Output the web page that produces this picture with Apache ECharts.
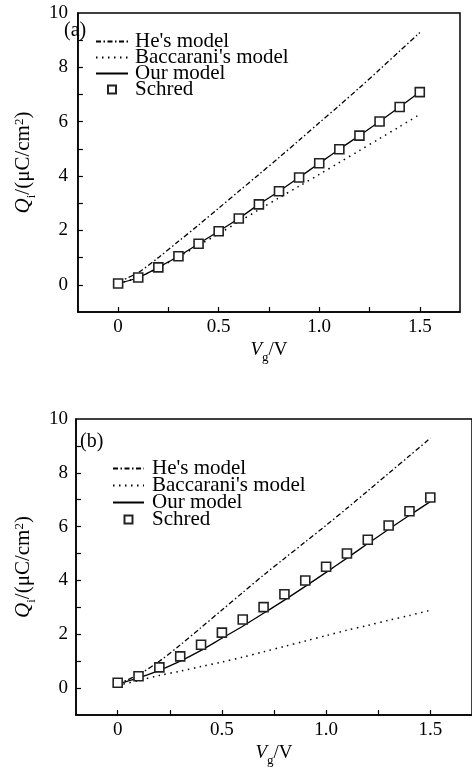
<!DOCTYPE html>
<html>
<head>
<meta charset="utf-8">
<script src="https://cdn.jsdelivr.net/npm/echarts@6/dist/echarts.min.js"></script>
<style>
  html, body { margin: 0; padding: 0; background: #fff; }
  #main { width: 472px; height: 768px; }
</style>
</head>
<body>
<div id="main"></div>
<script>
// gate voltage samples (V)
var vg = [0, 0.1, 0.2, 0.3, 0.4, 0.5, 0.6, 0.7, 0.8, 0.9, 1.0, 1.1, 1.2, 1.3, 1.4, 1.5]

// panel (a)
var heA     = [0.1, 0.45, 1.0, 1.6, 2.2, 2.82, 3.44, 4.06, 4.68, 5.32, 5.96, 6.6, 7.25, 7.92, 8.6, 9.28]
var baccA   = [0.05, 0.27, 0.63, 1.03, 1.45, 1.88, 2.32, 2.76, 3.2, 3.63, 4.06, 4.5, 4.94, 5.38, 5.82, 6.27]
var ourA    = [0.05, 0.27, 0.64, 1.05, 1.51, 1.97, 2.44, 2.96, 3.44, 3.95, 4.47, 4.99, 5.49, 6.01, 6.54, 7.09]
var schredA = [0.05, 0.27, 0.64, 1.05, 1.51, 1.97, 2.44, 2.96, 3.44, 3.95, 4.47, 4.99, 5.49, 6.01, 6.54, 7.09]

// panel (b)
var heB     = [0.15, 0.5, 1.0, 1.6, 2.25, 2.9, 3.55, 4.2, 4.82, 5.43, 6.05, 6.68, 7.33, 7.98, 8.63, 9.29]
var baccB   = [0.1, 0.28, 0.47, 0.63, 0.8, 0.97, 1.15, 1.35, 1.55, 1.75, 1.95, 2.15, 2.33, 2.52, 2.7, 2.89]
var ourB    = [0.15, 0.38, 0.66, 1.0, 1.4, 1.85, 2.3, 2.78, 3.27, 3.78, 4.3, 4.83, 5.37, 5.9, 6.42, 6.93]
var schredB = [0.2, 0.44, 0.77, 1.18, 1.61, 2.06, 2.55, 3.01, 3.49, 4.0, 4.51, 5.0, 5.51, 6.04, 6.57, 7.08]

var names = ["He's model", "Baccarani's model", 'Our model', 'Schred']
var xLabels = [0, 0.5, 1.0, 1.5]
var xTicks = [0, 0.25, 0.5, 0.75, 1.0, 1.25, 1.5]
var yLabels = [0, 2, 4, 6, 8, 10]
var yTicks = [0, 1, 2, 3, 4, 5, 6, 7, 8, 9]

var FONT = 'Liberation Serif'
var NONE = 'rgba(0,0,0,0)'

function pairs(ys) {
  return vg.map(function (v, i) { return [v, ys[i]] })
}

function xAxis(grid, gap) {
  return {
    gridIndex: grid, type: 'value', min: -0.2, max: 1.7,
    axisLine: { onZero: false, lineStyle: { color: '#000', width: 1.5 } },
    axisTick: { inside: true, length: 5, customValues: xTicks, lineStyle: { color: '#000', width: 1.2 } },
    axisLabel: {
      customValues: xLabels, margin: 6, color: '#000', fontSize: 19, fontFamily: FONT,
      formatter: function (v) { return v === 0 ? '0' : v.toFixed(1) }
    },
    splitLine: { show: false },
    name: '{v|V}{s|g}{n|/V}', nameLocation: 'middle', nameGap: gap,
    nameTextStyle: {
      color: '#000', fontFamily: FONT,
      rich: {
        v: { fontSize: 19, fontStyle: 'italic', fontFamily: FONT, lineHeight: 28, verticalAlign: 'middle' },
        n: { fontSize: 19, fontFamily: FONT, lineHeight: 28, verticalAlign: 'middle' },
        s: { fontSize: 13, fontFamily: FONT, lineHeight: 13, verticalAlign: 'bottom' }
      }
    }
  }
}

function yAxis(grid, gap, margin) {
  return {
    gridIndex: grid, type: 'value', min: -1, max: 10,
    axisLine: { onZero: false, lineStyle: { color: '#000', width: 1.5 } },
    axisTick: { inside: true, length: 5, customValues: yTicks, lineStyle: { color: '#000', width: 1.2 } },
    axisLabel: { customValues: yLabels, margin: margin, color: '#000', fontSize: 19, fontFamily: FONT },
    splitLine: { show: false },
    name: '{q|Q}{s|i}{n|/(μC/cm}{p|2}{n|)}', nameLocation: 'middle', nameGap: gap, nameRotate: 90,
    nameTextStyle: {
      color: '#000', fontFamily: FONT,
      rich: {
        q: { fontSize: 21, fontStyle: 'italic', fontFamily: FONT, lineHeight: 30, verticalAlign: 'middle' },
        n: { fontSize: 21, fontFamily: FONT, lineHeight: 30, verticalAlign: 'middle' },
        s: { fontSize: 13, fontFamily: FONT, lineHeight: 13, verticalAlign: 'bottom' },
        p: { fontSize: 13, fontFamily: FONT, lineHeight: 13, verticalAlign: 'top', padding: [5, 0, 0, 0] }
      }
    }
  }
}

function seriesFor(idx, he, bacc, our, schred) {
  return [
    { name: names[0], type: 'line', xAxisIndex: idx, yAxisIndex: idx, data: pairs(he), symbol: 'none', smooth: 0.3,
      itemStyle: { color: NONE, opacity: 0 },
      lineStyle: { color: '#000', width: 1.3, type: [5, 2.5, 1.5, 2.5] } },
    { name: names[1], type: 'line', xAxisIndex: idx, yAxisIndex: idx, data: pairs(bacc), symbol: 'none', smooth: 0.3,
      itemStyle: { color: NONE, opacity: 0 },
      lineStyle: { color: '#000', width: 1.5, type: [1.5, 4.5] } },
    { name: names[2], type: 'line', xAxisIndex: idx, yAxisIndex: idx, data: pairs(our), symbol: 'none', smooth: 0.3,
      itemStyle: { color: NONE, opacity: 0 },
      lineStyle: { color: '#000', width: 1.3 } },
    { name: names[3], type: 'line', xAxisIndex: idx, yAxisIndex: idx, data: pairs(schred), z: 5,
      symbol: 'rect', symbolSize: 9, showAllSymbol: true,
      lineStyle: { color: NONE, width: 0 },
      itemStyle: { color: '#fff', borderColor: '#222', borderWidth: 1.6 } }
  ]
}

function legendData() {
  return names.map(function (n, i) {
    return i < 3 ? { name: n, itemStyle: { opacity: 0 } } : { name: n }
  })
}

var chart = echarts.init(document.getElementById('main'))
chart.setOption({
  animation: false,
  title: [
    { text: '(a)', left: 64, top: 21, padding: 0, textStyle: { fontSize: 20, fontWeight: 'normal', fontFamily: FONT, color: '#000' } },
    { text: '(b)', left: 80, top: 432, padding: 0, textStyle: { fontSize: 20, fontWeight: 'normal', fontFamily: FONT, color: '#000' } }
  ],
  legend: [
    { data: legendData(), orient: 'vertical', left: 95, top: 31, padding: 0, itemGap: -5, itemWidth: 32, itemHeight: 10,
      selectedMode: false,
      textStyle: { fontSize: 21, fontFamily: FONT, color: '#000', padding: [0, 0, 0, 2] } },
    { data: legendData(), orient: 'vertical', left: 112, top: 458, padding: 0, itemGap: -4, itemWidth: 31, itemHeight: 10,
      selectedMode: false,
      textStyle: { fontSize: 21, fontFamily: FONT, color: '#000', padding: [0, 0, 0, 3] } }
  ],
  grid: [
    { left: 60, top: 13, width: 400, height: 299, show: true, borderColor: '#000', borderWidth: 1.5 },
    { left: 76, top: 419, width: 402, height: 301, show: true, borderColor: '#000', borderWidth: 1.5 }
  ],
  xAxis: [xAxis(0, 24), xAxis(1, 24)],
  yAxis: [yAxis(0, 26, 10), yAxis(1, 36, 8)],
  series: seriesFor(0, heA, baccA, ourA, schredA).concat(seriesFor(1, heB, baccB, ourB, schredB))
})
</script>
</body>
</html>
